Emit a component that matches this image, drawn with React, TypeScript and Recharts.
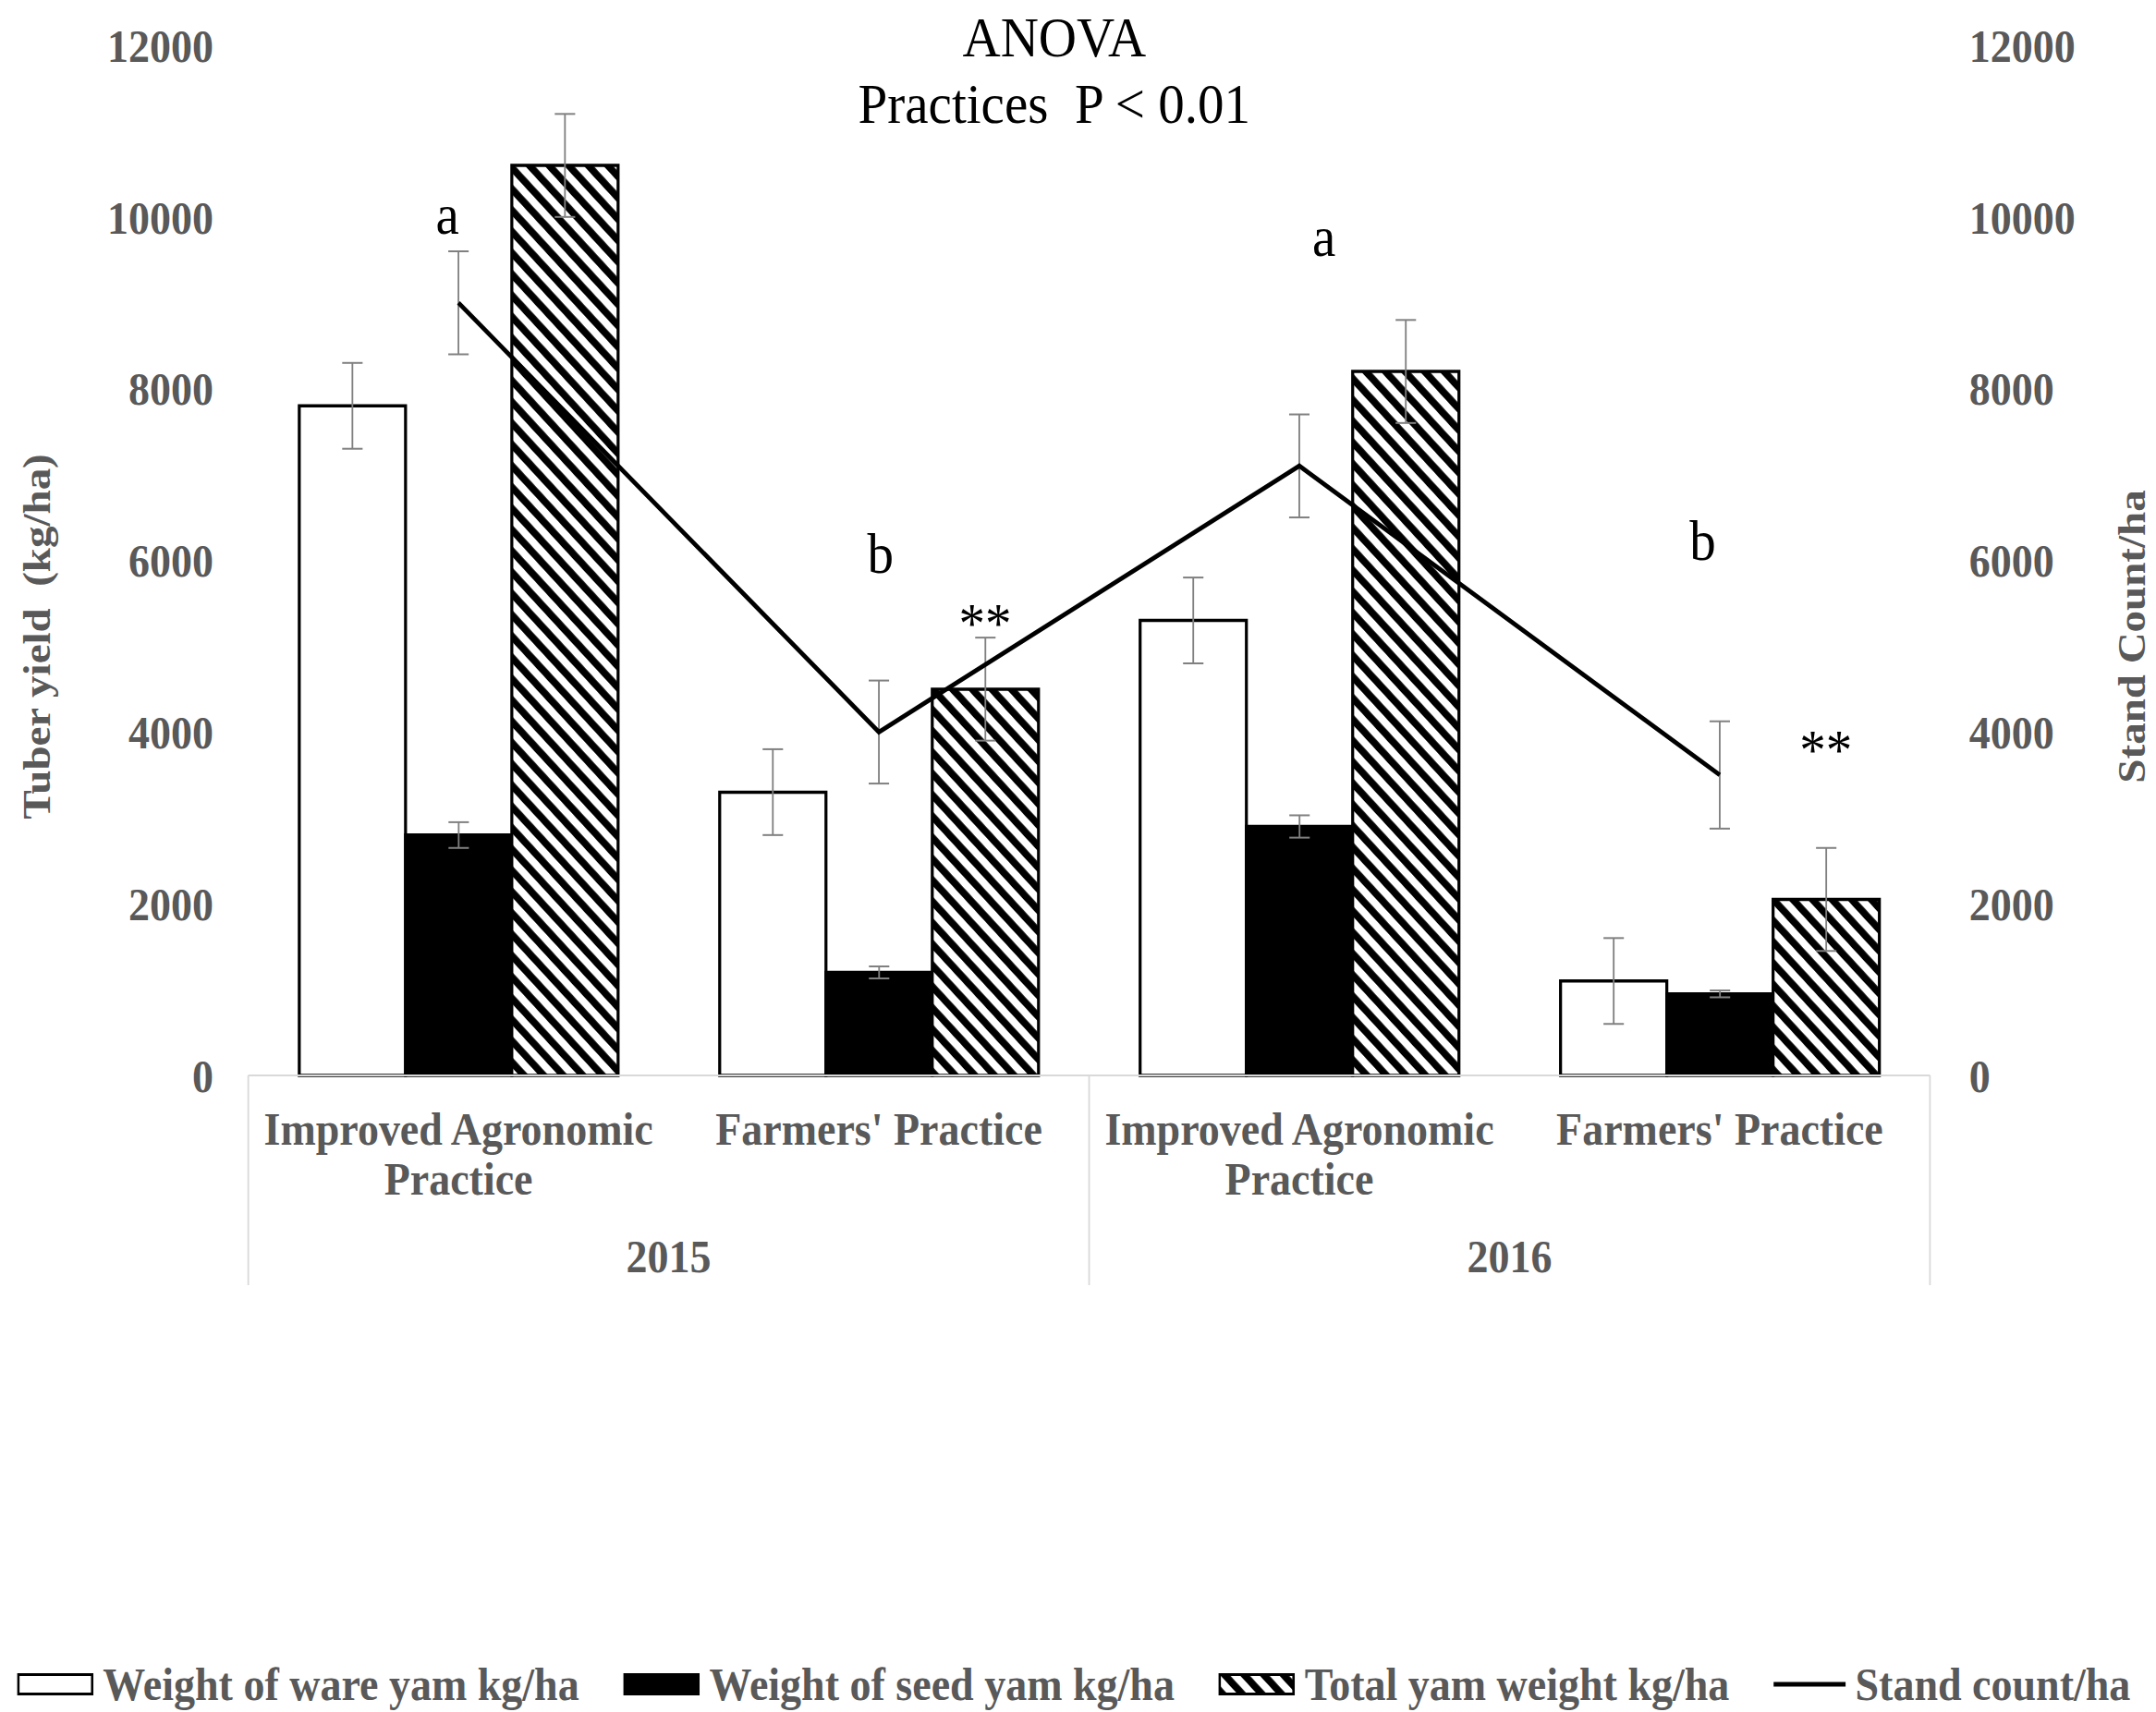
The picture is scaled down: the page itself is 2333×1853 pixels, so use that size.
import React from "react";
import {
  ComposedChart,
  Bar,
  Line,
  XAxis,
  YAxis,
  ErrorBar,
  Legend,
  ReferenceDot,
} from "recharts";

// yam trial, two seasons, two practices each
const practices = [
  "Improved Agronomic Practice",
  "Farmers' Practice",
  "Improved Agronomic Practice",
  "Farmers' Practice",
];
const years = ["2015", "2015", "2016", "2016"];

const wareYam = [7800, 3300, 5300, 1100];
const wareErr = [500, 500, 500, 500];
const seedYam = [2800, 1200, 2900, 950];
const seedErr = [150, 70, 130, 40];
const totalYam = [10600, 4500, 8200, 2050];
const totalErr = [600, 600, 600, 600];
const standCount = [9000, 4000, 7100, 3500];
const standErr = [600, 600, 600, 625];

// mean separation letters for stand count and significance marks on total weight
const groupLetters = ["a", "b", "a", "b"];
const letterLevel = [9800, 5850, 9550, 6000];
const totalMarks = ["", "**", "", "**"];
const markLevel = [0, 5050, 0, 3570];

const yTicks = [0, 2000, 4000, 6000, 8000, 10000, 12000];

// the figure is horizontally condensed, so the chart is laid out wider and squeezed
const SQUEEZE = 0.92;
const WIDTH = Math.round(2333 / SQUEEZE);
const HEIGHT = 1853;
const LEFT_W = 292;
const RIGHT_W = 266;
const TOP = 49;
const BASELINE = 1164;
const LEGEND_H = 84;
const XAXIS_H = HEIGHT - BASELINE - LEGEND_H;
const PLOT_W = WIDTH - LEFT_W - RIGHT_W;
const BAND = PLOT_W / practices.length;
const CAT_GAP = 60;
const BAR_W = (BAND - 2 * CAT_GAP) / 3;
// letters sit a little off the category centre
const LETTER_NUDGE = [-13, 2, 29, -20];

const serif = '"Liberation Serif", "Times New Roman", serif';
const grey = "#595959";
const boxGrey = "#d9d9d9";
const errGrey = "#808080";

const axisText = {
  fill: grey,
  fontFamily: serif,
  fontWeight: 700,
  fontSize: 50,
};

const rows = practices.map((p, i) => ({
  id: `${years[i]}-${i}`,
  practice: p,
  year: years[i],
  ware: wareYam[i],
  wareErr: wareErr[i],
  seed: seedYam[i],
  seedErr: seedErr[i],
  total: totalYam[i],
  totalErr: totalErr[i],
  stand: standCount[i],
  standErr: standErr[i],
}));

function wrapLabel(text: string, max = 18) {
  const out: string[] = [];
  let cur = "";
  for (const w of text.split(" ")) {
    const next = cur ? `${cur} ${w}` : w;
    if (next.length > max && cur) {
      out.push(cur);
      cur = w;
    } else {
      cur = next;
    }
  }
  if (cur) out.push(cur);
  return out;
}

function CategoryTick(props: any) {
  const { x, y, payload } = props;
  const i = payload.index;
  const half = BAND / 2;
  const last = practices.length - 1;
  const firstOfYear = i === 0 || years[i] !== years[i - 1];
  const boxBottom = y + 227;
  return (
    <g>
      {wrapLabel(practices[i]).map((t, k) => (
        <text key={k} x={x} y={y + 75 + k * 54} textAnchor="middle" {...axisText}>
          {t}
        </text>
      ))}
      {firstOfYear && (
        <line x1={x - half} x2={x - half} y1={y} y2={boxBottom} stroke={boxGrey} strokeWidth={2} />
      )}
      {i === last && (
        <line x1={x + half} x2={x + half} y1={y} y2={boxBottom} stroke={boxGrey} strokeWidth={2} />
      )}
      {firstOfYear && (
        <text x={x + half} y={y + 213} textAnchor="middle" {...axisText}>
          {years[i]}
        </text>
      )}
    </g>
  );
}

function HatchDefs({ id }: { id: string }) {
  return (
    <defs>
      <pattern
        id={id}
        width={16.3}
        height={16.3}
        patternUnits="userSpaceOnUse"
        patternTransform="rotate(-45)"
      >
        <rect width={16.3} height={16.3} fill="#fff" />
        <rect width={8} height={16.3} fill="#000" />
      </pattern>
    </defs>
  );
}

const legendItems = [
  { key: "ware", label: "Weight of ware yam kg/ha" },
  { key: "seed", label: "Weight of seed yam kg/ha" },
  { key: "total", label: "Total yam weight kg/ha" },
  { key: "stand", label: "Stand count/ha" },
];

function Swatch({ kind }: { kind: string }) {
  if (kind === "stand") {
    return (
      <svg width={85} height={24}>
        <line x1={0} x2={85} y1={12} y2={12} stroke="#000" strokeWidth={5} />
      </svg>
    );
  }
  const fill = kind === "seed" ? "#000" : kind === "total" ? "url(#hatch-legend)" : "#fff";
  return (
    <svg width={90} height={24}>
      {kind === "total" && <HatchDefs id="hatch-legend" />}
      <rect x={1.5} y={1.5} width={87} height={21} fill={fill} stroke="#000" strokeWidth={3} />
    </svg>
  );
}

function LegendContent() {
  return (
    <div style={{ position: "relative", width: WIDTH, height: LEGEND_H }}>
      <div
        style={{
          position: "absolute",
          top: 30,
          left: 20,
          height: 48,
          display: "flex",
          alignItems: "center",
          gap: 52,
        }}
      >
        {legendItems.map((it) => (
          <div key={it.key} style={{ display: "flex", alignItems: "center", gap: 11 }}>
            <Swatch kind={it.key} />
            <span
              style={{
                color: grey,
                fontFamily: serif,
                fontWeight: 700,
                fontSize: 50,
                lineHeight: "48px",
                whiteSpace: "nowrap",
              }}
            >
              {it.label}
            </span>
          </div>
        ))}
      </div>
    </div>
  );
}

function AxisTitle({ x, y, text }: { x: number; y: number; text: string }) {
  return (
    <text
      transform={`translate(${x},${y}) rotate(-90)`}
      textAnchor="middle"
      dominantBaseline="central"
      style={{ whiteSpace: "pre" }}
      fill={grey}
      fontFamily={serif}
      fontWeight={700}
      fontSize={47}
    >
      {text}
    </text>
  );
}

export default function App() {
  return (
    <div
      style={{
        position: "absolute",
        left: 0,
        top: 0,
        width: WIDTH,
        height: HEIGHT,
        background: "#fff",
        transform: `scaleX(${SQUEEZE})`,
        transformOrigin: "0 0",
      }}
    >
      <div
        style={{
          position: "absolute",
          left: 0,
          top: 4,
          width: 2480,
          textAlign: "center",
          fontFamily: serif,
          fontSize: 62,
          lineHeight: "72px",
          color: "#000",
          whiteSpace: "pre",
          zIndex: 2,
        }}
      >
        <div>ANOVA</div>
        <div>Practices  P &lt; 0.01</div>
      </div>
      <ComposedChart
        width={WIDTH}
        height={HEIGHT}
        data={rows}
        margin={{ top: TOP, right: 0, bottom: 0, left: 0 }}
        barCategoryGap={CAT_GAP}
        barGap={0}
      >
        <HatchDefs id="hatch-total" />
        <XAxis
          dataKey="id"
          height={XAXIS_H}
          interval={0}
          tickLine={false}
          tickSize={0}
          tickMargin={0}
          axisLine={{ stroke: boxGrey, strokeWidth: 2 }}
          tick={<CategoryTick />}
        />
        <YAxis
          yAxisId="left"
          domain={[0, 12000]}
          ticks={yTicks}
          width={LEFT_W}
          axisLine={false}
          tickLine={false}
          tickSize={0}
          tickMargin={41}
          tick={axisText}
          label={(p: any) => (
            <AxisTitle x={(p.viewBox?.x ?? 0) + 43} y={689} text="Tuber yield  (kg/ha)" />
          )}
        />
        <YAxis
          yAxisId="right"
          orientation="right"
          domain={[0, 12000]}
          ticks={yTicks}
          width={RIGHT_W}
          axisLine={false}
          tickLine={false}
          tickSize={0}
          tickMargin={46}
          tick={{ ...axisText, textAnchor: "start" }}
          label={(p: any) => (
            <AxisTitle x={(p.viewBox?.x ?? WIDTH - RIGHT_W) + 237} y={689} text="Stand Count/ha" />
          )}
        />
        <Bar
          yAxisId="left"
          dataKey="ware"
          name="Weight of ware yam kg/ha"
          fill="#fff"
          stroke="#000"
          strokeWidth={3.5}
          isAnimationActive={false}
        >
          <ErrorBar dataKey="wareErr" direction="y" width={12} stroke={errGrey} strokeWidth={2} />
        </Bar>
        <Bar
          yAxisId="left"
          dataKey="seed"
          name="Weight of seed yam kg/ha"
          fill="#000"
          stroke="#000"
          strokeWidth={3.5}
          isAnimationActive={false}
        >
          <ErrorBar dataKey="seedErr" direction="y" width={12} stroke={errGrey} strokeWidth={2} />
        </Bar>
        <Bar
          yAxisId="left"
          dataKey="total"
          name="Total yam weight kg/ha"
          fill="url(#hatch-total)"
          stroke="#000"
          strokeWidth={3.5}
          isAnimationActive={false}
        >
          <ErrorBar dataKey="totalErr" direction="y" width={12} stroke={errGrey} strokeWidth={2} />
        </Bar>
        <Line
          yAxisId="right"
          dataKey="stand"
          name="Stand count/ha"
          type="linear"
          stroke="#000"
          strokeWidth={5}
          dot={false}
          activeDot={false}
          isAnimationActive={false}
        >
          <ErrorBar dataKey="standErr" direction="y" width={12} stroke={errGrey} strokeWidth={2} />
        </Line>
        {rows.map((r, i) => (
          <ReferenceDot
            key={`letter-${r.id}`}
            yAxisId="left"
            x={r.id}
            y={letterLevel[i]}
            ifOverflow="visible"
            shape={(p: any) => (
              <text
                x={p.cx + LETTER_NUDGE[i]}
                y={p.cy}
                textAnchor="middle"
                fontFamily={serif}
                fontSize={62}
                fill="#000"
              >
                {groupLetters[i]}
              </text>
            )}
          />
        ))}
        {rows.map((r, i) =>
          totalMarks[i] ? (
            <ReferenceDot
              key={`mark-${r.id}`}
              yAxisId="left"
              x={r.id}
              y={markLevel[i]}
              ifOverflow="visible"
              shape={(p: any) => (
                <text
                  x={p.cx + BAR_W}
                  y={p.cy}
                  textAnchor="middle"
                  fontFamily={serif}
                  fontSize={62}
                  fill="#000"
                >
                  {totalMarks[i]}
                </text>
              )}
            />
          ) : null
        )}
        <Legend
          verticalAlign="bottom"
          content={<LegendContent />}
          wrapperStyle={{ left: 0, bottom: 0, width: WIDTH, height: LEGEND_H }}
        />
      </ComposedChart>
    </div>
  );
}
